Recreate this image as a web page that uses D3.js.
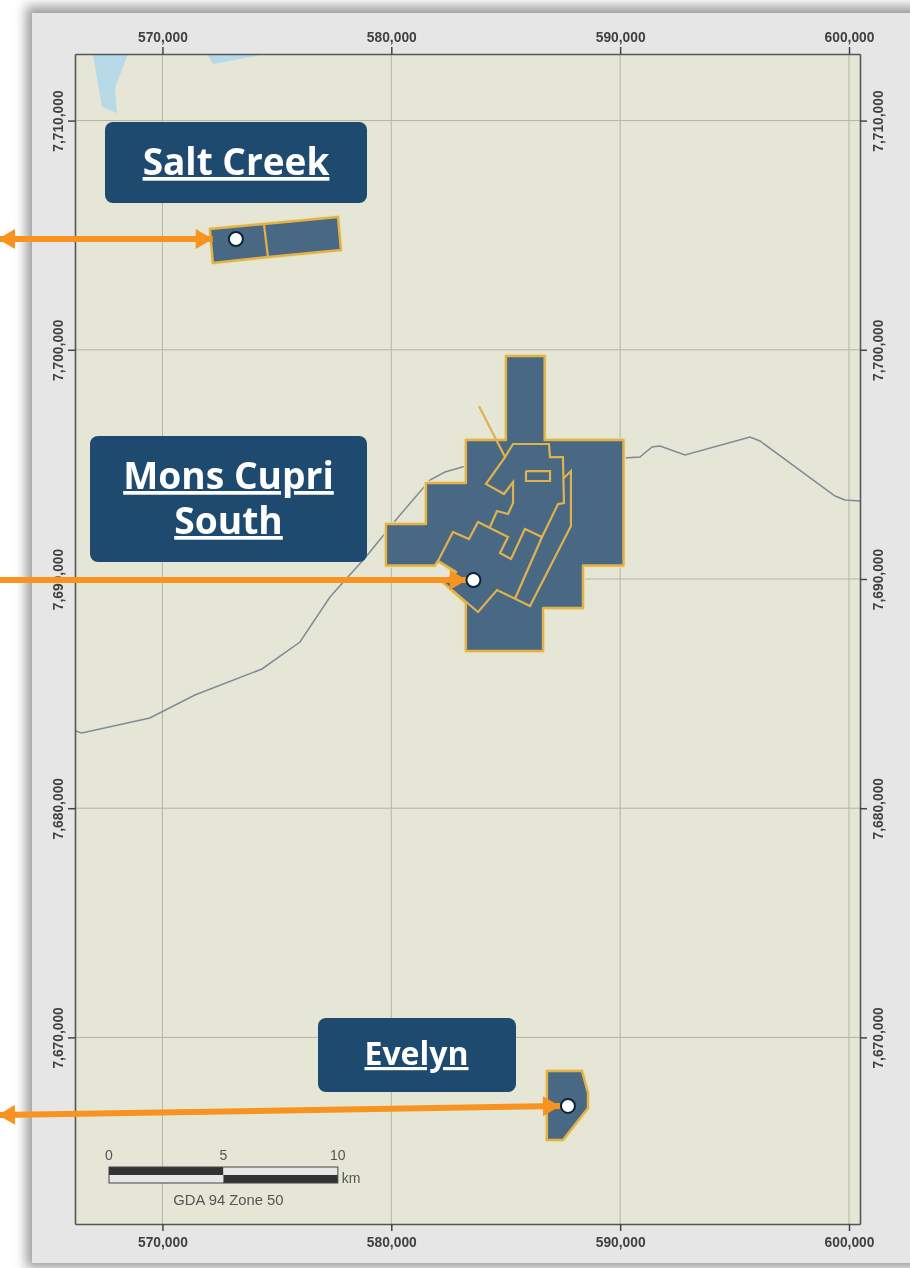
<!DOCTYPE html>
<html><head><meta charset="utf-8">
<script src="https://cdn.jsdelivr.net/npm/d3@7"></script>
<style>html,body{margin:0;padding:0;background:#fff;overflow:hidden}svg{display:block}</style>
</head><body><div id="chart"></div>
<script>
// Map coordinates are GDA 94 Zone 50 easting / northing (metres)
const eastingTicks = [570000, 580000, 590000, 600000];
const northingTicks = [7670000, 7680000, 7690000, 7700000, 7710000];
const waterAreas = [
  [[566960,7712905],[568490,7712905],[567925,7711425],[568010,7710335],[567360,7710595]],
  [[571945,7712905],[574565,7712905],[572205,7712470]]
];
const drainage = [[566180,7683370],[566480,7683280],[569450,7683935],[571420,7684940],[574350,7686075],[576010,7687250],[577320,7689215],[578850,7690915],[580380,7692790],[581690,7694320],[582345,7694670],[583260,7694930],[590165,7695280],[590865,7695320],[591390,7695760],[591740,7695800],[592835,7695410],[595675,7696195],[596110,7696020],[599390,7693620],[599825,7693445],[600480,7693400]];
const saltCreekOutline = [[572075,7705270],[574435,7705490],[577670,7705795],[577800,7704355],[574610,7704050],[572205,7703785]];
const saltCreekDivider = [[574435,7705490],[574610,7704050]];
const monsCupriOutline = [[585010,7699730],[586700,7699730],[586700,7696065],[590145,7696065],[590145,7690590],[588375,7690590],[588375,7688735],[586630,7688735],[586630,7686860],[583260,7686860],[583260,7688955],[582300,7689825],[582825,7690305],[582040,7690785],[581900,7690590],[579767,7690590],[579767,7692400],[581515,7692400],[581515,7694190],[583260,7694190],[583260,7696065],[585010,7696065]];
const monsCupriInnerLines = [
  [[583830,7697550],[584970,7695320],[585320,7695890],[586890,7695890],[586935,7695320],[587500,7695320],[587545,7693315],[587285,7693270],[586585,7691830],[585840,7692180],[585230,7690870],[584750,7691135],[585100,7691830],[583790,7692485],[583395,7691745],[582695,7692050],[582040,7690785],[582825,7690305],[582300,7689825],[583790,7688560],[584620,7689520],[586060,7688820],[587850,7692310],[587850,7694710],[587500,7694365]],
  [[584970,7695320],[584135,7694145],[584925,7693710],[585320,7694230],[585320,7693315],[585100,7692835],[584620,7692965],[584310,7692270]],
  [[586585,7691830],[585400,7689130]],
  [[585885,7694710],[586935,7694710],[586935,7694275],[585885,7694275],[585885,7694710]]
];
const evelynOutline = [[586800,7668535],[588330,7668535],[588595,7667575],[588595,7666920],[587500,7665525],[586800,7665525]];
const scaleBarKm = [0, 5, 10];
const projects = [
  {lines:["Salt Creek"], point:[573210,7704835]},
  {lines:["Mons Cupri","South"], point:[583590,7689955]},
  {lines:["Evelyn"], point:[587720,7667010]}
];
const arrows = [
  {from:[562815,7704835], to:[572200,7704835], heads:[1,1]},
  {from:[562700,7689955], to:[583300,7689955], heads:[0,1]},
  {from:[562815,7666610], to:[587370,7667010], heads:[1,1]}
];

const W=910,H=1268;
const F={l:75,r:860,t:54,b:1224};
const x=d3.scaleLinear().domain([566180,600480]).range([F.l,F.r]);
const y=d3.scaleLinear().domain([7712905,7661860]).range([F.t,F.b]);
const fmt=d3.format(",");
const svg=d3.select("#chart").append("svg").attr("width",W).attr("height",H);
const defs=svg.append("defs");
const sh=defs.append("filter").attr("id","sh").attr("x","-10%").attr("y","-10%").attr("width","120%").attr("height","120%");
sh.append("feGaussianBlur").attr("stdDeviation",6);
const soft=defs.append("filter").attr("id","soft").attr("x","-5%").attr("y","-5%").attr("width","110%").attr("height","110%");
soft.append("feGaussianBlur").attr("stdDeviation",0.4);
defs.append("clipPath").attr("id","frame").append("rect").attr("x",F.l).attr("y",F.t).attr("width",F.r-F.l).attr("height",F.b-F.t);

svg.append("rect").attr("x",26).attr("y",6).attr("width",W).attr("height",1262).attr("fill","#9c9c9c").attr("filter","url(#sh)");
svg.append("rect").attr("x",32).attr("y",13).attr("width",W).attr("height",1250).attr("fill","#e6e6e6");

const map=svg.append("g").attr("filter","url(#soft)");
const mapIn=map.append("g").attr("clip-path","url(#frame)");
mapIn.append("rect").attr("x",F.l).attr("y",F.t).attr("width",F.r-F.l).attr("height",F.b-F.t).attr("fill","#e5e6d6");
const pt=d=>[x(d[0]),y(d[1])];
const line=d3.line().x(d=>x(d[0])).y(d=>y(d[1]));
mapIn.selectAll("path.water").data(waterAreas).join("path").attr("class","water").attr("d",d=>line(d)+"Z").attr("fill","#b7d9e8");
mapIn.selectAll("line.gx").data(eastingTicks).join("line").attr("class","gx").attr("x1",x).attr("x2",x).attr("y1",F.t).attr("y2",F.b).attr("stroke","#b4b5a6").attr("stroke-width",1);
mapIn.selectAll("line.gy").data(northingTicks).join("line").attr("class","gy").attr("y1",y).attr("y2",y).attr("x1",F.l).attr("x2",F.r).attr("stroke","#b4b5a6").attr("stroke-width",1);
mapIn.append("path").attr("d",line(drainage)).attr("fill","none").attr("stroke","#7d8c95").attr("stroke-width",1.5);
const POLY="#486884",GOLD="#e0b24e";
[monsCupriOutline,saltCreekOutline,evelynOutline].forEach(p=>{
  mapIn.append("path").attr("d",line(p)+"Z").attr("fill","none").attr("stroke","#efe0a8").attr("stroke-width",4.5).attr("stroke-linejoin","round");
  mapIn.append("path").attr("d",line(p)+"Z").attr("fill",POLY).attr("stroke",GOLD).attr("stroke-width",2.4).attr("stroke-linejoin","round");
});
mapIn.selectAll("path.inner").data(monsCupriInnerLines.concat([saltCreekDivider])).join("path").attr("class","inner").attr("d",d=>line(d)).attr("fill","none").attr("stroke",GOLD).attr("stroke-width",2.2);

// axes
const axG=svg.append("g").attr("filter","url(#soft)");
function ax(a,tx,ty){return axG.append("g").attr("transform",`translate(${tx},${ty})`).call(a.tickSize(7).tickSizeOuter(0).tickFormat(fmt));}
const axTop=ax(d3.axisTop(x).tickValues(eastingTicks),0,F.t);
const axBottom=ax(d3.axisBottom(x).tickValues(eastingTicks),0,F.b);
const axLeft=ax(d3.axisLeft(y).tickValues(northingTicks),F.l,0);
const axRight=ax(d3.axisRight(y).tickValues(northingTicks),F.r,0);
[axTop,axBottom,axLeft,axRight].forEach(g=>{
  g.select(".domain").attr("stroke","#555").attr("stroke-width",1.6);
  g.selectAll(".tick line").attr("stroke","#444").attr("stroke-width",1.5);
  g.selectAll("text").attr("fill","#3f3f3f").attr("font-family","'Liberation Sans',sans-serif").attr("font-weight","700").attr("font-size",13.8);
});
axTop.selectAll("text").attr("y",-12).attr("dy",0);
axBottom.selectAll("text").attr("y",23).attr("dy",0);
axLeft.selectAll("text").attr("x",0).attr("dy",0).attr("y",0).attr("text-anchor","middle").attr("transform","translate(-12,0) rotate(-90)");
axRight.selectAll("text").attr("x",0).attr("dy",0).attr("y",0).attr("text-anchor","middle").attr("transform","translate(23,0) rotate(-90)");

// scale bar
const kmPx=k=>x(eastingTicks[0]+k*1000)-x(eastingTicks[0]);
const sb=map.append("g").attr("transform","translate(109,1167)").attr("font-family","'Liberation Sans',sans-serif").attr("fill","#555").attr("font-size",14);
const halves=[[0,5],[5,10]];
sb.selectAll("rect.a").data(halves).join("rect").attr("class","a").attr("x",d=>kmPx(d[0])).attr("width",d=>kmPx(d[1])-kmPx(d[0])).attr("y",0).attr("height",8).attr("fill",(d,i)=>i?"#e6e6e6":"#333");
sb.selectAll("rect.b").data(halves).join("rect").attr("class","b").attr("x",d=>kmPx(d[0])).attr("width",d=>kmPx(d[1])-kmPx(d[0])).attr("y",8).attr("height",8).attr("fill",(d,i)=>i?"#333":"#e6e6e6");
sb.append("rect").attr("width",kmPx(10)).attr("height",16).attr("fill","none").attr("stroke","#444").attr("stroke-width",1);
sb.selectAll("text.k").data(scaleBarKm).join("text").attr("class","k").attr("x",kmPx).attr("y",-7).attr("text-anchor","middle").text(d=>d);
sb.append("text").attr("x",kmPx(10)+4).attr("y",16).text("km");
sb.append("text").attr("x",kmPx(5)+5).attr("y",38).attr("text-anchor","middle").attr("font-size",14.8).text("GDA 94 Zone 50");

// label boxes
const boxes=[
 {x:105,y:122,w:262,h:81,size:37,base:[175],cx:236},
 {x:90,y:436,w:277,h:126,size:37.2,base:[489,534],cx:228.5},
 {x:318,y:1018,w:198,h:74,size:32,base:[1065],cx:416.5}
];
const BOX="#1d4a6e";
boxes.forEach((b,i)=>{
  svg.append("rect").attr("x",b.x).attr("y",b.y).attr("width",b.w).attr("height",b.h).attr("rx",8).attr("fill",BOX);
  projects[i].lines.forEach((t,j)=>{
    svg.append("text").attr("x",b.cx).attr("y",b.base[j]).attr("text-anchor","middle").attr("fill","#fff")
      .attr("font-family","'Open Sans',sans-serif").attr("font-weight",700).attr("font-size",b.size).attr("text-decoration","underline").text(t);
  });
});

// arrows
const OR="#f7931e";
arrows.forEach(a=>{
  const p0=pt(a.from),p1=pt(a.to);
  const ang=Math.atan2(p1[1]-p0[1],p1[0]-p0[0]),c=Math.cos(ang),s=Math.sin(ang),hl=17,hw=10;
  svg.append("line").attr("x1",p0[0]).attr("y1",p0[1]).attr("x2",p1[0]).attr("y2",p1[1]).attr("stroke",OR).attr("stroke-width",6);
  const head=(t,dir)=>{
    const bx=t[0]-dir*hl*c,by=t[1]-dir*hl*s;
    svg.append("path").attr("d",`M${t[0]},${t[1]}L${bx-hw*s},${by+hw*c}L${bx+hw*s},${by-hw*c}Z`).attr("fill",OR);
  };
  if(a.heads[0])head(p0,-1);
  if(a.heads[1])head(p1,1);
});
svg.selectAll("circle.site").data(projects).join("circle").attr("class","site")
  .attr("cx",d=>x(d.point[0])).attr("cy",d=>y(d.point[1])).attr("r",7).attr("fill","#fff").attr("stroke","#0c2238").attr("stroke-width",2);
</script></body></html>
